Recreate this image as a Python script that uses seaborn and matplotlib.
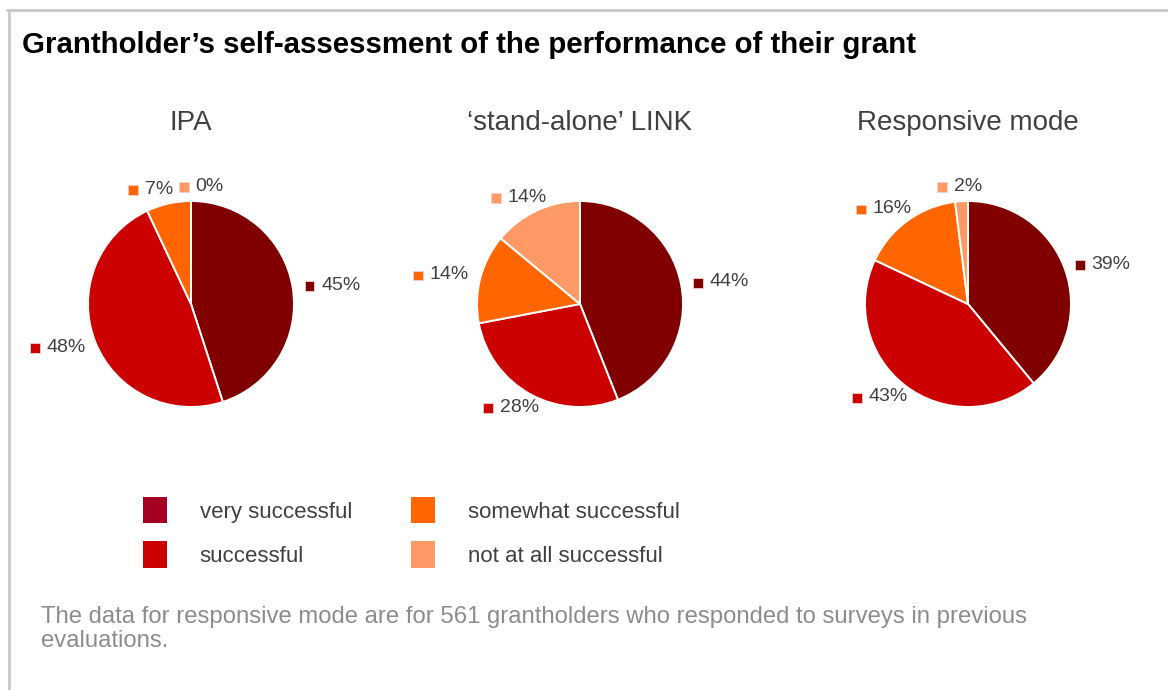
import matplotlib
matplotlib.use("Agg")
import numpy as np
import matplotlib.pyplot as plt
import seaborn as sns
from matplotlib.lines import Line2D
from matplotlib.patches import Patch, Rectangle
from matplotlib.offsetbox import AnnotationBbox, HPacker, TextArea, DrawingArea

# ---- data -------------------------------------------------------------
categories = ["very successful", "successful", "somewhat successful", "not at all successful"]
programmes = ["IPA", "\u2018stand-alone\u2019 LINK", "Responsive mode"]
ipa = [45, 48, 7, 0]
link = [44, 28, 14, 14]
responsive = [39, 43, 16, 2]
shares = [ipa, link, responsive]

title = "Grantholder\u2019s self-assessment of the performance of their grant"
footnote = ("The data for responsive mode are for 561 grantholders who responded to surveys in previous\n"
            "evaluations.")

# ---- style ------------------------------------------------------------
slice_colors = ["#800000", "#CC0000", "#FF6600", "#FF9966"]
legend_colors = ["#A50021", "#CC0000", "#FF6600", "#FF9966"]
text_dark = "#404040"

sns.set_theme(style="white")
plt.rcParams["font.family"] = ["Liberation Sans", "DejaVu Sans"]

W, H = 1168, 690
DPI = 100
fig = plt.figure(figsize=(W / DPI, H / DPI), dpi=DPI)
fig.patch.set_facecolor("white")

# frame lines along the top and left edge
fig.add_artist(Line2D([7 / W, 1.0], [1 - 9.5 / H, 1 - 9.5 / H], transform=fig.transFigure,
                      color="#c8c8c8", lw=2))
fig.add_artist(Line2D([8.5 / W, 8.5 / W], [0.0, 1 - 9.5 / H], transform=fig.transFigure,
                      color="#c8c8c8", lw=2))

fig.text(22 / W, 1 - 45 / H, title, fontsize=21.2, fontweight="bold", color="black",
         ha="left", va="center")

R_PX = 103          # pie radius in pixels
HALF = 185          # half size of each pie axes in pixels
centers_x = [191, 580, 968]
center_y = 304
RX, RY = 1.12, 1.06  # label anchor distance from the centre (in radii)


def pie_label(ax, x, y, theta, text, color):
    box = DrawingArea(8, 8)
    box.add_artist(Rectangle((0, 0), 7, 7, facecolor=color, edgecolor="#f3d0c8", lw=0.6))
    txt = TextArea(text, textprops=dict(color=text_dark, fontsize=14))
    pack = HPacker(children=[box, txt], align="center", pad=0, sep=4)
    align = (0.5 - 0.5 * np.cos(theta), 0.5 - 0.5 * np.sin(theta))
    ab = AnnotationBbox(pack, (x, y), xycoords="data", xybox=(0, 0),
                        boxcoords="offset points", box_alignment=align,
                        frameon=False, pad=0)
    ax.add_artist(ab)
    return ab


label_groups = []
for cx, name, vals in zip(centers_x, programmes, shares):
    ax = fig.add_axes([(cx - HALF) / W, (H - center_y - HALF) / H, 2 * HALF / W, 2 * HALF / H])
    lim = HALF / R_PX
    ax.pie(vals, colors=slice_colors, startangle=90, counterclock=False, radius=1,
           wedgeprops=dict(edgecolor="white", linewidth=1.4))
    ax.set_xlim(-lim, lim)
    ax.set_ylim(-lim, lim)
    ax.set_aspect("equal")
    ax.axis("off")
    ax.text(0, (center_y - 123) / R_PX, name, fontsize=20, color=text_dark,
            ha="center", va="center")

    # labels at each slice's mid angle, just outside the rim
    ends = np.cumsum(vals)
    starts = ends - np.array(vals)
    group = []
    for v, s, e, col in zip(vals, starts, ends, slice_colors):
        mid = np.deg2rad(90 - (s + e) / 2 * 3.6)
        group.append(pie_label(ax, RX * np.cos(mid), RY * np.sin(mid), mid, f"{v}%", col))
    label_groups.append(group)

# push apart labels of neighbouring thin slices so they do not collide
fig.canvas.draw()
renderer = fig.canvas.get_renderer()
GAP = 6
for group in label_groups:
    for i in range(len(group)):
        for j in range(i + 1, len(group)):
            a = group[i].get_window_extent(renderer)
            b = group[j].get_window_extent(renderer)
            if a.overlaps(b):
                left, right = (group[i], group[j]) if a.x0 < b.x0 else (group[j], group[i])
                la, ra = (a, b) if a.x0 < b.x0 else (b, a)
                shift = (la.x1 - ra.x0 + GAP) / 2 * 72 / DPI
                left.xybox = (left.xybox[0] - shift, left.xybox[1])
                right.xybox = (right.xybox[0] + shift, right.xybox[1])

# legend
handles = [Patch(facecolor=c, edgecolor="none") for c in legend_colors]
fig.legend(handles, categories, ncol=2, loc="upper left",
           bbox_to_anchor=(143 / W, 1 - 497 / H), frameon=False, fontsize=16,
           handlelength=1.1, handleheight=1.45, handletextpad=1.45,
           columnspacing=2.65, labelspacing=0.8, borderpad=0, borderaxespad=0,
           labelcolor=text_dark)

fig.text(41 / W, 1 - 606 / H, footnote, fontsize=17.2, color="#8c8c8c",
         ha="left", va="top", linespacing=1.13)

fig.savefig("out.png", dpi=DPI)
